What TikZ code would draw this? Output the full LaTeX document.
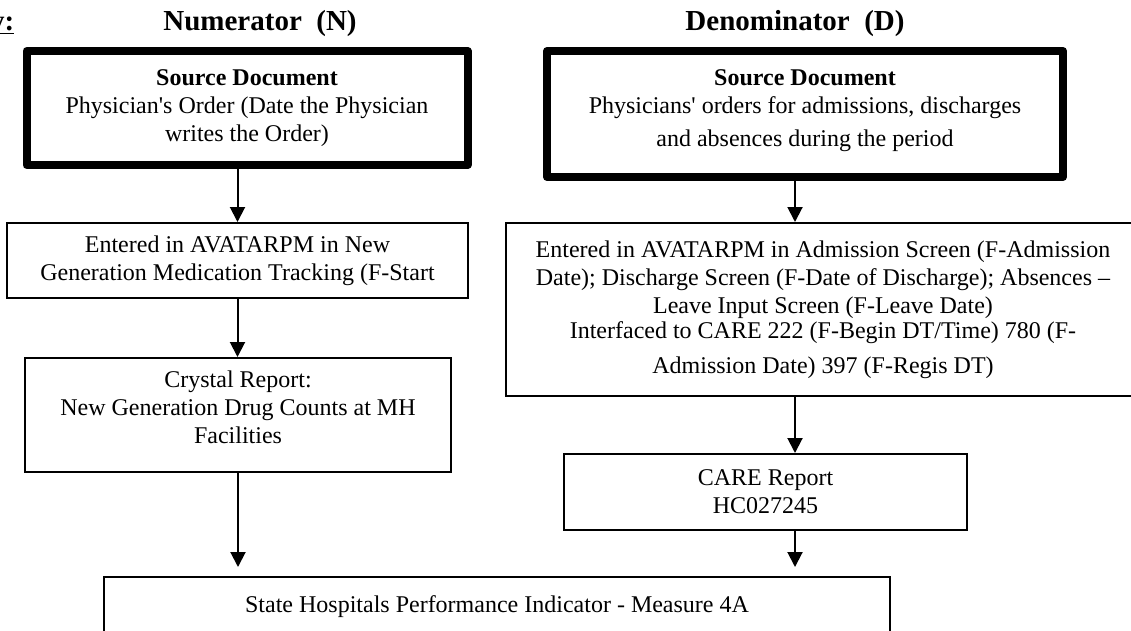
\documentclass[tikz,border=0pt]{standalone}
\usepackage{fontspec}
\setmainfont{Liberation Serif}
\usetikzlibrary{arrows.meta}
\newcommand\myBody{\fontsize{24}{28}\selectfont}
\newcommand\myTitle{\fontsize{29}{34}\selectfont\bfseries}
\newcommand\myDepth[1]{\rule[-#1]{0pt}{#1}}
\begin{document}
\begin{tikzpicture}[x=1pt,y=-1pt,
  titletext/.style={font=\myTitle, anchor=base, inner sep=0pt},
  srcbox/.style={draw, line width=8pt, line join=round, align=center, font=\myBody, inner sep=0pt},
  plainbox/.style={draw, line width=2pt, align=center, font=\myBody, inner sep=0pt},
  flow/.style={line width=2pt, -{Triangle[length=15pt,width=15pt]}}]
\useasboundingbox (0,0) rectangle (1131,631);

% headings
\node[titletext, anchor=base east] (ylab) at (14.5,31) {\underline{\smash{y}:}};
\node[titletext] (ntitle) at (260,31) {Numerator\ \ (N)};
\node[titletext] (dtitle) at (795,31) {Denominator\ \ (D)};

% numerator column
\node[srcbox, minimum width=441pt, minimum height=114pt] (nsrc) at (247,108)
  {\textbf{Source Document}\\Physician\textquotesingle s Order (Date the Physician\\writes the Order)};
\node[plainbox, minimum width=461pt, minimum height=75pt] (n2) at (237.5,260.5)
  {Entered in AVATARPM in New\\Generation Medication Tracking (F-Start};
\node[plainbox, minimum width=426pt, minimum height=114pt] (crys) at (238,415)
  {Crystal Report:\\New Generation Drug Counts at MH\\Facilities\myDepth{15pt}};

% denominator column
\node[srcbox, minimum width=516pt, minimum height=126pt] (dsrc) at (805,114)
  {\textbf{Source Document}\\Physicians\textquotesingle\ orders for admissions, discharges\\[5pt]and absences during the period\myDepth{11pt}};
\node[plainbox, minimum width=634pt, minimum height=173pt] (d2) at (823,309.5)
  {Entered in AVATARPM in Admission Screen (F-Admission\\Date); Discharge Screen (F-Date of Discharge); Absences --\\Leave Input Screen (F-Leave Date)\\[-3pt]Interfaced to CARE 222 (F-Begin DT/Time) 780 (F-\\[7pt]Admission Date) 397 (F-Regis DT)};
\node[plainbox, minimum width=403pt, minimum height=76pt] (care) at (765.5,492)
  {CARE Report\\HC027245};

% result
\node[plainbox, minimum width=786pt, minimum height=120pt, anchor=north] (pi) at (497,576) {};
\node[font=\myBody, inner sep=0pt] (pitext) at (497,607) {State Hospitals Performance Indicator - Measure 4A};

\coordinate (dx) at (795,0);

% connectors
\draw[flow] (nsrc.south -| n2.north) -- (n2.north);
\draw[flow] (n2.south) -- (n2.south |- crys.north);
\draw[flow, shorten >=9pt] (crys.south) -- (crys.south |- pi.north);
\draw[flow] (dsrc.south -| dx) -- (d2.north -| dx);
\draw[flow] (d2.south -| dx) -- (care.north -| dx);
\draw[flow, shorten >=9pt] (care.south -| dx) -- (pi.north -| dx);
\end{tikzpicture}
\end{document}
